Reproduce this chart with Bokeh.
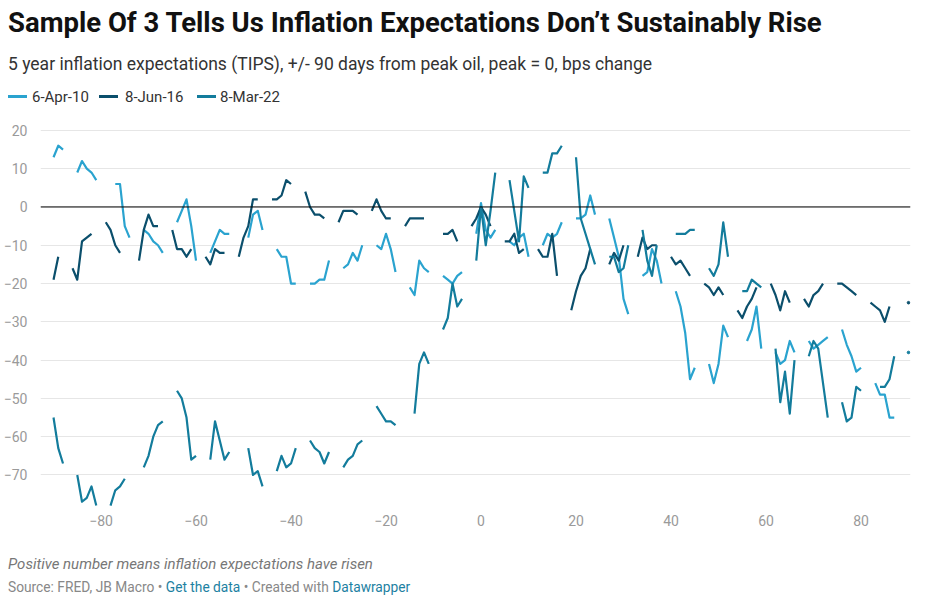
import numpy as np
from bokeh.plotting import figure
from bokeh.layouts import column
from bokeh.models import Range1d, Span, Div, FixedTicker, CustomJSTickFormatter
from bokeh.embed import file_html
from bokeh.resources import INLINE

# days from peak oil; one row per week, None = no trading day
days = list(range(-90, 91))

apr_10 = [
    13, 16, 15, None, None, 9, 12,
    10, 9, 7, None, None, None, 6,
    6, -5, -8, None, None, -6, -7,
    -9, -10, -12, None, None, -4, -1,
    2, -5, -14, None, None, -12, -9,
    -6, -7, -7, None, None, None, -8,
    -2, -1, -6, None, None, -11, -13,
    -13, -20, -20, None, None, -20, -20,
    -19, -19, -14, None, None, -16, -15,
    -12, -14, -10, None, None, -10, -11,
    -7, -11, -17, None, None, -21, -23,
    -14, -16, -17, None, None, -18, -19,
    -20, -18, -17, None, None, -7, 1,
    -6, -8, -6, None, None, -9, -10,
    -8, -7, -13, None, None, -10, -7,
    -8, -7, -4, None, None, -3, -3,
    -2, 3, -2, None, None, -3, -8,
    -13, -24, -28, None, None, -18, -17,
    -11, -14, -20, None, None, -22, -26,
    -33, -45, -42, None, None, -41, -46,
    -41, -31, -34, None, None, None, -35,
    -32, -26, -37, None, None, -38, -41,
    -40, -35, -38, None, None, -35, -37,
    -36, -35, -34, None, None, -32, -36,
    -39, -43, -42, None, None, -46, -49,
    -49, -55, -55, None, None, None,
]

jun_16 = [
    -19, -13, None, None, -16, -19, -9,
    -8, -7, None, None, -4, -6, -10,
    -12, None, None, None, -14, -6, -2,
    -5, -5, None, None, -6, -11, -11,
    -13, -11, None, None, -13, -15, -11,
    -12, -12, None, None, -13, -8, -5,
    2, 2, None, None, 2, 2, 3,
    7, 6, None, None, 4, 0, -2,
    -2, -3, None, None, -4, -1, -1,
    -1, -2, None, None, -1, 2, -1,
    -3, -3, None, None, -5, -3, -3,
    -3, -3, None, None, None, -7, -7,
    -6, -9, None, None, -5, -3, 0,
    -2, -5, None, None, -9, -9, -7,
    -12, -11, None, None, -11, -13, -13,
    -7, -18, None, None, -27, -22, -18,
    -16, -11, None, None, None, -15, -12,
    -14, -10, None, None, -13, -8, -11,
    -10, -10, None, None, -13, -15, -14,
    -16, -18, None, None, -20, -21, -23,
    -21, -23, None, None, -27, -29, -26,
    -24, -21, None, None, -20, -23, -27,
    -22, -25, None, None, -24, -26, -23,
    -22, -20, None, None, -20, -20, -21,
    -22, -23, None, None, -25, -26, -27,
    -30, -26, None, None, None, -25,
]

mar_22 = [
    -55, -63, -67, None, None, -70, -77,
    -76, -73, -78, None, None, -78, -74,
    -73, -71, None, None, None, -68, -65,
    -60, -57, -56, None, None, -48, -50,
    -55, -66, -65, None, None, -66, -56,
    -61, -66, -64, None, None, None, -63,
    -70, -69, -73, None, None, -69, -65,
    -68, -67, -63, None, None, -61, -63,
    -64, -67, -64, None, None, -68, -66,
    -65, -62, -61, None, None, -52, -54,
    -56, -56, -57, None, None, None, -54,
    -41, -38, -41, None, None, -32, -29,
    -20, -26, -24, None, None, -14, 0,
    -10, -1, 9, None, None, 7, -1,
    -9, 8, 5, None, None, 9, 9,
    14, 14, 16, None, None, 13, -3,
    -7, -11, -15, None, None, -13, -13,
    -17, -16, -10, None, None, -6, -14,
    -18, -10, None, None, None, -7, -7,
    -7, -6, -6, None, None, -16, -18,
    -15, -4, -13, None, None, -22, -22,
    -19, -20, -21, None, None, -37, -51,
    -43, -54, -40, None, None, -39, -35,
    -37, -46, -55, None, None, -51, -56,
    -55, -47, -48, None, None, None, -47,
    -47, -45, -39, None, None, -38,
]

series_names = ["6-Apr-10", "8-Jun-16", "8-Mar-22"]
series_colors = ["#2aa3cf", "#0b4f6c", "#137c9c"]
x_ticks = [-80, -60, -40, -20, 0, 20, 40, 60, 80]
y_ticks = [-70, -60, -50, -40, -30, -20, -10, 0, 10, 20]

FONT = "Roboto"
GREY = "#9a9a9a"
W = 921

# header: title, subtitle, legend
legend_html = ""
for name, col, sx, lx in zip(series_names, series_colors, [8, 99, 197], [32, 125, 220]):
    legend_html += (f'<div style="position:absolute;left:{sx}px;top:95px;width:19px;height:3px;'
                    f'background:{col}"></div>'
                    f'<div style="position:absolute;left:{lx}px;top:87px;line-height:20px;'
                    f'font-size:15px;color:#333">{name}</div>')

header = Div(width=W, height=120, margin=0, text=(
    f'<div style="position:relative;width:{W}px;height:120px;font-family:Roboto;white-space:nowrap">'
    '<div style="position:absolute;left:8px;top:7px;font-size:27.5px;font-weight:700;line-height:32px;'
    'color:#111">Sample Of 3 Tells Us Inflation Expectations Don\u2019t Sustainably Rise</div>'
    '<div style="position:absolute;left:8px;top:54px;font-size:17.5px;line-height:20px;color:#333">'
    '5 year inflation expectations (TIPS), +/- 90 days from peak oil, peak = 0, bps change</div>'
    + legend_html + '</div>'))

footer = Div(width=W, height=66, margin=0, text=(
    f'<div style="position:relative;width:{W}px;height:66px;font-family:Roboto;white-space:nowrap">'
    '<div style="position:absolute;left:8px;top:15px;font-size:15px;line-height:18px;'
    'font-style:italic;color:#777">Positive number means inflation expectations have risen</div>'
    '<div style="position:absolute;left:8px;top:39px;font-size:13.75px;line-height:16px;color:#888">'
    'Source: FRED, JB Macro \u2022 <span style="color:#1d81a2">Get the data</span> \u2022 '
    'Created with <span style="color:#1d81a2">Datawrapper</span></div></div>'))

p = figure(width=W, height=420,
           min_border_left=32, min_border_right=11,
           min_border_top=8, min_border_bottom=33,
           x_range=Range1d(-92.74, 90.42), y_range=Range1d(-78.5, 20.5),
           output_backend="svg", toolbar_location=None, tools="")
p.outline_line_color = None
p.xgrid.grid_line_color = None
p.ygrid.grid_line_color = "#e6e6e6"
p.ygrid.grid_line_width = 1

for ax in (p.xaxis, p.yaxis):
    ax.axis_line_color = None
    ax.major_tick_line_color = None
    ax.minor_tick_line_color = None
    ax.major_label_text_font = FONT
    ax.major_label_text_font_size = "14px"
    ax.major_label_text_color = GREY
    ax.formatter = CustomJSTickFormatter(
        code="return tick < 0 ? '\u2212' + Math.abs(tick) : String(tick);")
p.xaxis.ticker = FixedTicker(ticks=x_ticks)
p.yaxis.ticker = FixedTicker(ticks=y_ticks)
p.xaxis.major_label_standoff = 1
p.yaxis.major_label_standoff = 7

p.add_layout(Span(location=0, dimension="width", line_color="black", line_width=1))


def lone_points(vals):
    xs, ys = [], []
    for i, v in enumerate(vals):
        if v is None:
            continue
        prev = vals[i - 1] if i > 0 else None
        nxt = vals[i + 1] if i < len(vals) - 1 else None
        if prev is None and nxt is None:
            xs.append(days[i])
            ys.append(v)
    return xs, ys


for vals, col in zip([apr_10, jun_16, mar_22], series_colors):
    ys = [np.nan if v is None else v for v in vals]
    p.line(days, ys, line_color=col, line_width=2.2, line_join="round")
    lx, ly = lone_points(vals)
    if lx:
        p.scatter(lx, ly, size=2.6, color=col)

layout = column(header, p, footer, spacing=0)
open("out.html", "w").write(file_html(layout, INLINE))
